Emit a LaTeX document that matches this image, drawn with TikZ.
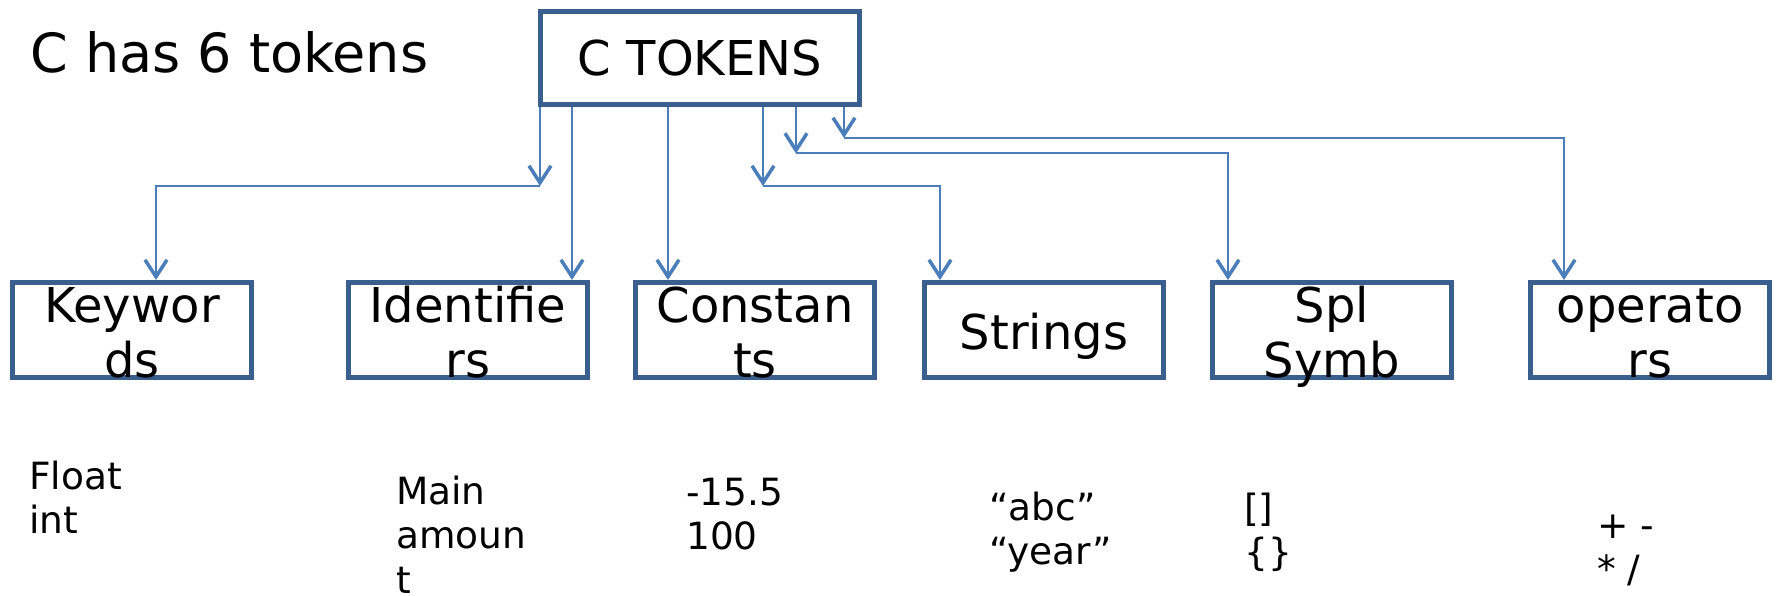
\documentclass[tikz,border=0pt]{standalone}
\usepackage{fontspec}
\setmainfont{DejaVu Sans}
\usetikzlibrary{arrows.meta}
\definecolor{boxblue}{HTML}{3A5F8E}
\definecolor{linkblue}{HTML}{4A7EBB}
\tikzset{
  tokbox/.style={draw=boxblue, line width=5pt, minimum width=239pt, minimum height=95pt, inner sep=0pt, fill=white},
  headbox/.style={draw=boxblue, line width=5pt, minimum width=319pt, minimum height=93pt, inner sep=0pt, font=\fontsize{48}{58}\selectfont},
  boxtext/.style={inner sep=0pt, anchor=base, font=\fontsize{48}{55}\selectfont},
  link/.style={draw=linkblue, line width=2pt},
  arrowtip/.style={-{Straight Barb[length=17pt,width=22pt,line width=3.5pt]}},
  note/.style={inner sep=0pt, anchor=base west, font=\fontsize{37.5}{44.5}\selectfont},
}
\begin{document}
\begin{tikzpicture}[x=1pt,y=-1pt]
\useasboundingbox (0,0) rectangle (1779,596);

% title
\node[inner sep=0pt, anchor=base west, font=\fontsize{54}{64}\selectfont] (title) at (30,73) {C has 6 tokens};

% header
\node[headbox] (ct) at (700,58) {C TOKENS};

% token boxes
\node[tokbox] (kw) at (132,330) {};
\node[tokbox] (id) at (468,330) {};
\node[tokbox] (cn) at (755,330) {};
\node[tokbox] (st) at (1044,330) {};
\node[tokbox] (sp) at (1332,330) {};
\node[tokbox] (op) at (1650,330) {};

% box labels (overflowing like the original)
\node[boxtext] (kwt) at (132,322) {\begin{tabular}[t]{@{}c@{}}Keywor\\ds\end{tabular}};
\node[boxtext] (idt) at (468,322) {\begin{tabular}[t]{@{}c@{}}Identifie\\rs\end{tabular}};
\node[boxtext] (cnt) at (755,322) {\begin{tabular}[t]{@{}c@{}}Constan\\ts\end{tabular}};
\node[boxtext] (stt) at (1044,349) {Strings};
\node[boxtext] (spt) at (1332,322) {\begin{tabular}[t]{@{}c@{}}Spl\\Symb\end{tabular}};
\node[boxtext] (opt) at (1650,322) {\begin{tabular}[t]{@{}c@{}}operato\\rs\end{tabular}};

% connector bend points
\coordinate (c1) at (540,186);
\coordinate (k1) at (156,186);
\coordinate (i1) at (572,200);
\coordinate (n1) at (668,200);
\coordinate (c2) at (763,186);
\coordinate (s1) at (940,186);
\coordinate (c3) at (796,153.5);
\coordinate (p1) at (1228,153.5);
\coordinate (c4) at (844,138);
\coordinate (o1) at (1564,138);

% connectors
\draw[link,arrowtip] (ct.south -| c1) -- (c1);
\draw[link,arrowtip] (c1) -- (k1) -- (kw.north -| k1);
\draw[link,arrowtip] (ct.south -| i1) -- (id.north -| i1);
\draw[link,arrowtip] (ct.south -| n1) -- (cn.north -| n1);
\draw[link,arrowtip] (ct.south -| c2) -- (c2);
\draw[link,arrowtip] (c2) -- (s1) -- (st.north -| s1);
\draw[link,arrowtip] (ct.south -| c3) -- (c3);
\draw[link,arrowtip] (c3) -- (p1) -- (sp.north -| p1);
\draw[link,arrowtip] (ct.south -| c4) -- (c4);
\draw[link,arrowtip] (c4) -- (o1) -- (op.north -| o1);

% examples
\node[note] (ex1) at (29,489) {\begin{tabular}[t]{@{}l@{}}Float\\int\end{tabular}};
\node[note] (ex2) at (396,504) {\begin{tabular}[t]{@{}l@{}}Main\\amoun\\t\end{tabular}};
\node[note] (ex3) at (686,505) {\begin{tabular}[t]{@{}l@{}}-15.5\\100\end{tabular}};
\node[note] (ex4) at (989,520) {\begin{tabular}[t]{@{}l@{}}“abc”\\“year”\end{tabular}};
\node[note] (ex5) at (1244,521) {\begin{tabular}[t]{@{}l@{}}[]\\\{\}\end{tabular}};
\node[note] (ex6) at (1597,538) {\begin{tabular}[t]{@{}l@{}}+ -\\{*} /\end{tabular}};
\end{tikzpicture}
\end{document}
